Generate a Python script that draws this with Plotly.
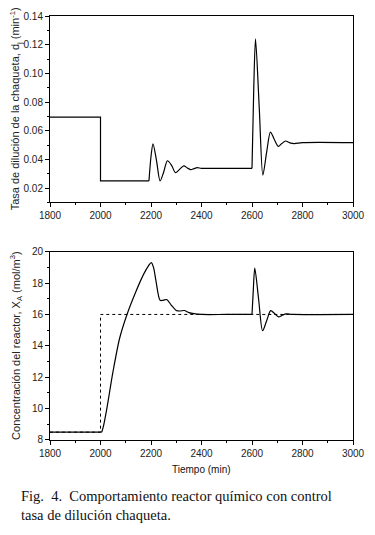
import plotly.graph_objects as go

# ---- Data: jacket dilution rate d_j (top panel) ----
dj_step_t = [1800, 2000, 2000, 2192]
dj_step_v = [0.0695, 0.0695, 0.025, 0.025]
dj_osc1_t = [2192, 2200, 2208, 2222, 2236, 2250, 2265, 2281, 2297, 2313, 2330, 2344, 2358, 2370, 2383, 2400, 2450, 2600]
dj_osc1_v = [0.025, 0.042, 0.0508, 0.039, 0.025, 0.031, 0.039, 0.036, 0.0307, 0.033, 0.0355, 0.034, 0.0328, 0.0335, 0.0342, 0.0337, 0.0337, 0.0337]
dj_osc2_t = [2600, 2607, 2614, 2629, 2643, 2658, 2673, 2688, 2704, 2718, 2733, 2750, 2768, 2800, 3000]
dj_osc2_v = [0.0337, 0.09, 0.124, 0.075, 0.029, 0.045, 0.059, 0.054, 0.049, 0.051, 0.0528, 0.0515, 0.051, 0.0517, 0.0517]

# ---- Data: reactor concentration X_A (bottom panel) ----
xa_step_t = [1800, 2005]
xa_step_v = [8.5, 8.5]
xa_osc1_t = [2005, 2012, 2024, 2050, 2076, 2105, 2140, 2172, 2190, 2201, 2210, 2220, 2236, 2248, 2262, 2280, 2300, 2315, 2332, 2350, 2364, 2400, 2500, 2600]
xa_osc1_v = [8.5, 8.9, 9.9, 12.4, 14.5, 16.0, 17.45, 18.6, 19.1, 19.3, 19.0, 18.1, 16.9, 16.9, 16.95, 16.6, 16.25, 16.22, 16.25, 16.12, 16.07, 16.0, 16.0, 16.0]
xa_osc2_t = [2600, 2605, 2611, 2626, 2642, 2658, 2674, 2690, 2705, 2720, 2736, 2760, 3000]
xa_osc2_v = [16.0, 17.5, 18.95, 17.0, 14.96, 15.6, 16.24, 16.05, 15.84, 15.95, 16.03, 16.0, 16.0]
sp_t = [1800, 2000, 2000, 3000]
sp_v = [8.5, 8.5, 16.0, 16.0]

x_ticks = [1800, 2000, 2200, 2400, 2600, 2800, 3000]

FONT = "Liberation Sans Narrow, Arial Narrow, Liberation Sans, Arial, sans-serif"
LINE = dict(color="black", width=1.2)

fig = go.Figure()
fig.add_trace(go.Scatter(x=dj_step_t, y=dj_step_v, mode="lines", line=LINE, xaxis="x", yaxis="y"))
fig.add_trace(go.Scatter(x=dj_osc1_t, y=dj_osc1_v, mode="lines", line=dict(LINE, shape="spline", smoothing=0.8), xaxis="x", yaxis="y"))
fig.add_trace(go.Scatter(x=dj_osc2_t, y=dj_osc2_v, mode="lines", line=dict(LINE, shape="spline", smoothing=0.8), xaxis="x", yaxis="y"))

fig.add_trace(go.Scatter(x=sp_t, y=sp_v, mode="lines", line=dict(color="black", width=1, dash="dot"), xaxis="x2", yaxis="y2"))
fig.add_trace(go.Scatter(x=xa_step_t, y=xa_step_v, mode="lines", line=LINE, xaxis="x2", yaxis="y2"))
fig.add_trace(go.Scatter(x=xa_osc1_t, y=xa_osc1_v, mode="lines", line=dict(LINE, shape="spline", smoothing=0.8), xaxis="x2", yaxis="y2"))
fig.add_trace(go.Scatter(x=xa_osc2_t, y=xa_osc2_v, mode="lines", line=dict(LINE, shape="spline", smoothing=0.8), xaxis="x2", yaxis="y2"))

axis_common = dict(
    showgrid=False, zeroline=False, showline=True, linecolor="black", linewidth=1,
    mirror=True, ticks="outside", ticklen=4, tickwidth=1, tickcolor="black",
    tickfont=dict(family=FONT, size=10, color="#222"),
)
minor_common = dict(ticklen=2, tickcolor="black", tickwidth=1, showgrid=False)

fig.update_layout(
    width=375, height=535,
    margin=dict(l=50, r=13, t=10, b=95),
    paper_bgcolor="white", plot_bgcolor="white",
    showlegend=False,
    xaxis=dict(axis_common, domain=[0, 1], range=[1800, 3000], tickvals=x_ticks,
               minor=dict(minor_common, dtick=100), anchor="y"),
    yaxis=dict(axis_common, domain=[0.5605, 1], range=[0.01, 0.14], dtick=0.02, tick0=0,
               tickformat=".2f", minor=dict(minor_common, dtick=0.01, tick0=0), anchor="x"),
    xaxis2=dict(axis_common, domain=[0, 1], range=[1800, 3000], tickvals=x_ticks,
                minor=dict(minor_common, dtick=100), anchor="y2"),
    yaxis2=dict(axis_common, domain=[0, 0.4442], range=[8, 20], dtick=2, tick0=0,
                minor=dict(minor_common, dtick=1, tick0=0), anchor="x2"),
)

title_font = dict(family=FONT, size=11, color="#222")
fig.add_annotation(text="Tasa de dilución de la chaqueta, d<sub>j</sub> (min<sup>-1</sup>)",
                   xref="paper", yref="paper", x=-0.112, y=0.78, textangle=-90,
                   showarrow=False, font=title_font, xanchor="center", yanchor="middle")
fig.add_annotation(text="Concentración del reactor, X<sub>A</sub> (mol/m<sup>3</sup>)",
                   xref="paper", yref="paper", x=-0.112, y=0.222, textangle=-90,
                   showarrow=False, font=title_font, xanchor="center", yanchor="middle")
fig.add_annotation(text="Tiempo (min)", xref="paper", yref="paper", x=0.5, y=-0.0698,
                   showarrow=False, font=dict(family=FONT, size=10, color="#111"),
                   xanchor="center", yanchor="middle")

cap_font = dict(family="Liberation Serif, Times New Roman, serif", size=14.5, color="#111")
fig.add_annotation(text="Fig.  4.  Comportamiento reactor químico con control", xref="paper", yref="paper",
                   x=-0.1026, y=-0.1326, showarrow=False, font=cap_font, xanchor="left", yanchor="middle")
fig.add_annotation(text="tasa de dilución chaqueta.", xref="paper", yref="paper",
                   x=-0.1026, y=-0.1767, showarrow=False, font=cap_font, xanchor="left", yanchor="middle")

fig.write_html("out.html", config={"displayModeBar": False},
               post_script="document.body.style.margin='0';document.body.style.overflow='hidden';")
